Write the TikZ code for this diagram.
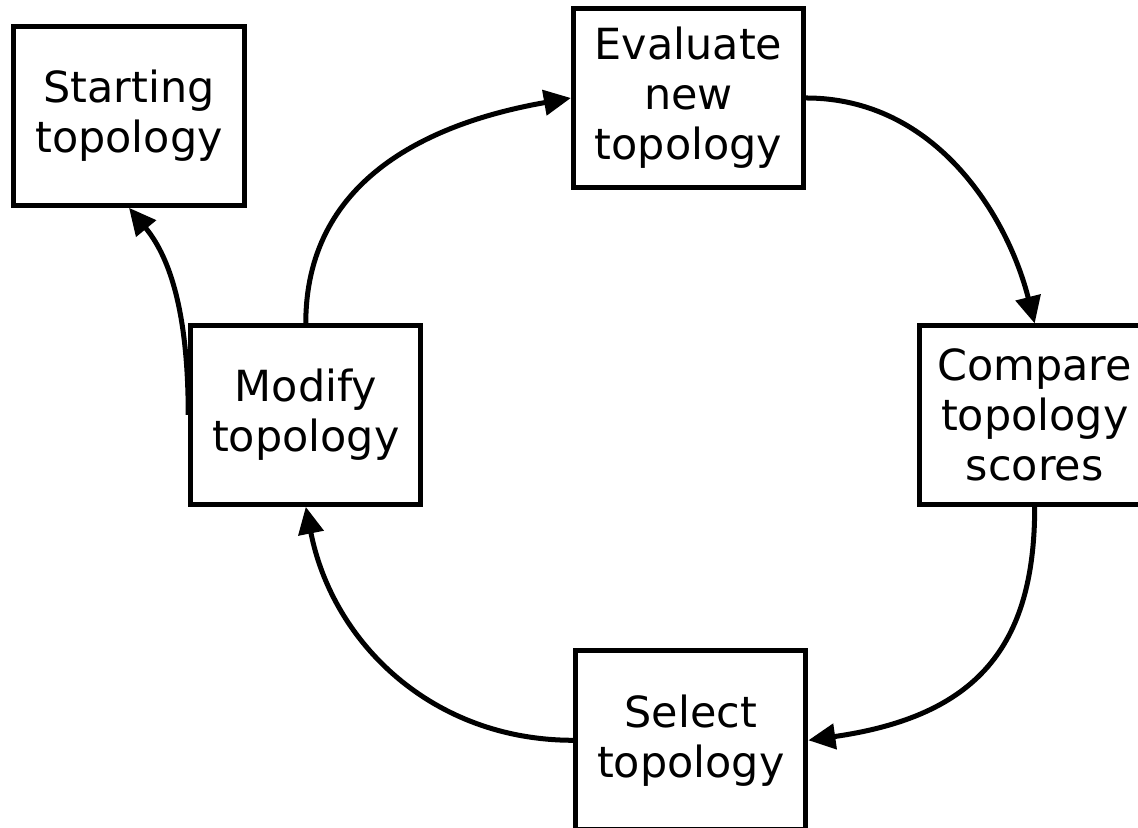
\documentclass[tikz,border=0pt]{standalone}
\usepackage{fontspec}
\setmainfont{DejaVu Sans}
\usetikzlibrary{arrows.meta}
\begin{document}
\begin{tikzpicture}[x=0.01cm,y=-0.01cm,
  box/.style={draw=black,line width=0.05cm,fill=white,minimum width=2.30cm,minimum height=1.785cm,
    inner sep=0pt,align=center,font=\fontsize{12.2pt}{14.2pt}\selectfont},
  conn/.style={line width=0.05cm,-{Triangle[length=0.27cm,width=0.25cm]}}]
\path[use as bounding box,clip] (0,0) rectangle (1138,828);
\node[box] (start) at (129,116) {Starting\\topology};
\node[box] (eval) at (688.5,98) {Evaluate\\new\\topology};
\node[box] (comp) at (1034.7,415.3) {Compare\\topology\\scores};
\node[box] (modi) at (305.8,415) {Modify\\topology};
\node[box] (sel) at (690.8,740.3) {Select\\topology};
\draw[conn] (modi.north) .. controls +(0,-140) and +(-148,26) .. (eval.west);
\draw[conn] (eval.east) .. controls +(130,0) and +(-27,-107) .. (comp.north);
\draw[conn] (comp.south) .. controls +(0,140) and +(168,-24) .. (sel.east);
\draw[conn] (sel.west) .. controls +(-140,0) and +(27,137) .. (modi.south);
\draw[conn] (modi.west) .. controls +(0,-110) and +(38,46) .. (start.south);
\end{tikzpicture}
\end{document}
